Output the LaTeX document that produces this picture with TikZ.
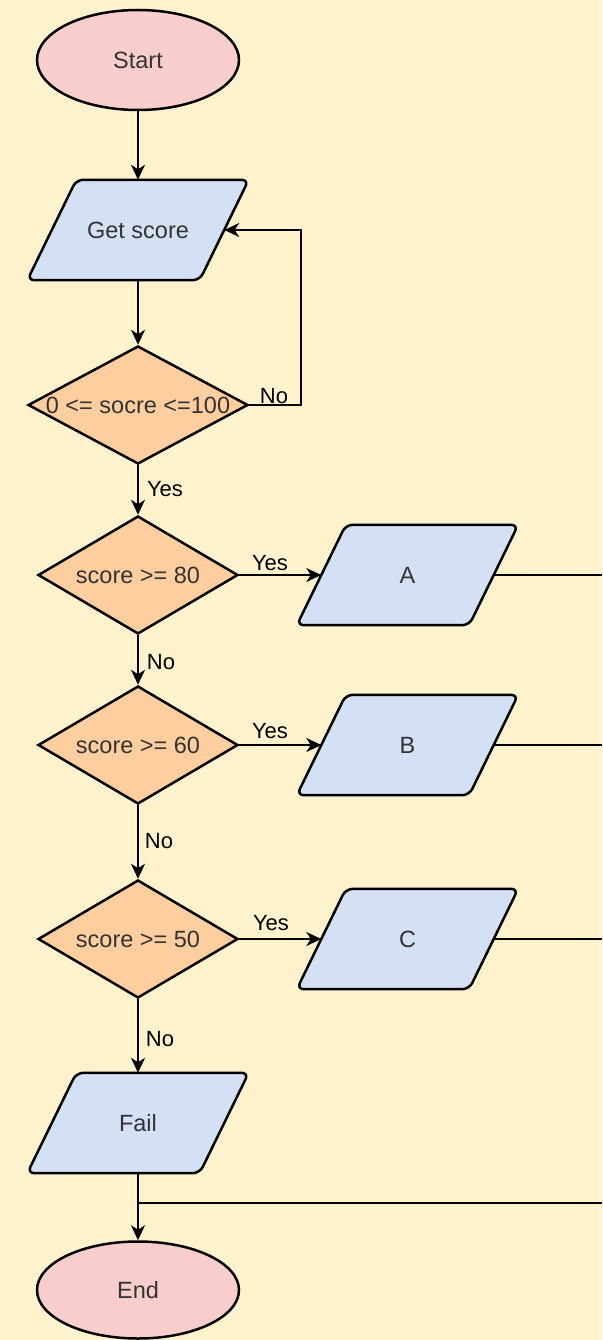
\documentclass[tikz,border=0pt]{standalone}
\usepackage{fontspec}
\setmainfont{Liberation Sans}
\usetikzlibrary{shapes.geometric,arrows.meta,backgrounds}

\definecolor{paper}{HTML}{FFF2CC}
\definecolor{termfill}{HTML}{F8CECC}
\definecolor{iofillc}{HTML}{D4E1F5}
\definecolor{decfill}{HTML}{FFCE9F}
\definecolor{ink}{HTML}{333333}

\begin{document}
\begin{tikzpicture}[x=1pt,y=-1pt,
  nodefont/.style={font=\fontsize{23.5}{27}\selectfont},
  term/.style={ellipse, draw=black, line width=2.5pt, fill=termfill,
    minimum width=202pt, minimum height=100pt, inner sep=0pt, text=ink, nodefont},
  io/.style={minimum width=172pt, minimum height=100pt, inner sep=0pt,
    text=ink, nodefont},
  iofill/.style={draw=black, line width=2.5pt, fill=iofillc, rounded corners=7pt,
    line join=round},
  decision/.style={diamond, draw=black, line width=2.5pt, fill=decfill,
    minimum width=200pt, minimum height=118pt, inner sep=0pt, text=ink, nodefont},
  arr/.style={draw=black, line width=1.6pt,
    -{Stealth[length=15pt, width=14pt, inset=4.5pt]}},
  wire/.style={draw=black, line width=1.6pt},
  lbl/.style={text=black, font=\fontsize{22}{25}\selectfont, inner sep=0pt}
]
\useasboundingbox (0,0) rectangle (602,1340);

% terminals
\node[term] (start) at (138,60) {Start};
\node[term, minimum height=97pt] (end) at (138,1290) {End};

% input / output boxes (outline drawn on the background layer)
\node[io] (get)  at (138,230)  {Get score};
\node[io] (A)    at (407.5,575) {A};
\node[io] (B)    at (407.5,745) {B};
\node[io] (C)    at (407.5,939) {C};
\node[io] (fail) at (138,1123) {Fail};

% decisions
\node[decision, minimum width=220pt] (d0) at (138,405) {\makebox[0pt]{0 <= socre <=100}};
\node[decision] (d80) at (138,575) {\makebox[0pt]{score >= 80}};
\node[decision] (d60) at (138,745) {\makebox[0pt]{score >= 60}};
\node[decision] (d50) at (138,939) {\makebox[0pt]{score >= 50}};

\begin{scope}[on background layer]
  \fill[paper] (0,0) rectangle (602,1340);
  \foreach \n in {get,A,B,C,fail}
    \draw[iofill] ([xshift=24.5pt]\n.north west) -- ([xshift=24.5pt]\n.north east)
      -- ([xshift=-24.5pt]\n.south east) -- ([xshift=-24.5pt]\n.south west) -- cycle;
\end{scope}

% free ends running off to the right and the merge point above End
\coordinate (ra) at (602,575);
\coordinate (rb) at (602,745);
\coordinate (rc) at (602,939);
\coordinate (rf) at (602,1203);
\coordinate (join) at (138,1203);

% connectors
\draw[arr] (start) -- (get);
\draw[arr] (get) -- (d0);
\draw[arr] (d0.east) -- ++(52,0) |- (get.east);
\draw[arr] (d0) -- (d80);
\draw[arr] (d80) -- (A);
\draw[arr] (d80) -- (d60);
\draw[arr] (d60) -- (B);
\draw[arr] (d60) -- (d50);
\draw[arr] (d50) -- (C);
\draw[arr] (d50) -- (fail);
\draw[arr] (fail) -- (end);
\draw[wire] (A.east) -- (ra);
\draw[wire] (B.east) -- (rb);
\draw[wire] (C.east) -- (rc);
\draw[wire] (rf) -- (join);

% connector labels
\node[lbl] (l0n) at (274,396) {No};
\node[lbl] (l0y) at (165,489) {Yes};
\node[lbl] (l80y) at (270,563) {Yes};
\node[lbl] (l80n) at (161,662) {No};
\node[lbl] (l60y) at (270,731) {Yes};
\node[lbl] (l60n) at (159,841) {No};
\node[lbl] (l50y) at (271,923) {Yes};
\node[lbl] (l50n) at (160,1039) {No};
\end{tikzpicture}
\end{document}
